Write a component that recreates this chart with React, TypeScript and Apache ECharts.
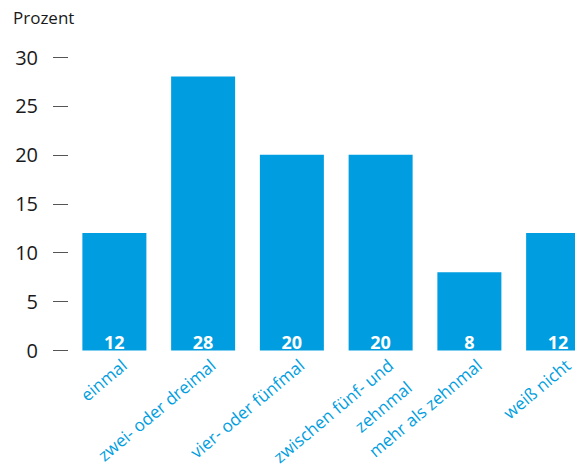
import React, { useEffect, useRef } from "react";
import * as echarts from "echarts";

const categories = [
  "einmal",
  "zwei- oder dreimal",
  "vier- oder fünfmal",
  "zwischen fünf- und\nzehnmal",
  "mehr als zehnmal",
  "weiß nicht",
];
const values = [12, 28, 20, 20, 8, 12];
const yTicks = [0, 5, 10, 15, 20, 25, 30];
const unitLabel = "Prozent";

const FONT = "'Open Sans', 'Noto Sans', sans-serif";
const BLUE = "#009ee0";

export default function App() {
  const ref = useRef<HTMLDivElement>(null);
  useEffect(() => {
    if (!ref.current) return;
    const chart = echarts.init(ref.current, null, { renderer: "svg" });
    chart.setOption({
      animation: false,
      title: {
        text: unitLabel,
        left: 13,
        top: 9,
        padding: 0,
        textStyle: { fontFamily: FONT, fontSize: 17, fontWeight: "normal", color: "#1a1a1a" },
      },
      grid: [
        { left: 70, width: 532.5, top: 57, bottom: 125.5, outerBoundsMode: "none", containLabel: false },
        { left: 70.5, width: 532.5, top: 57, bottom: 125.5, outerBoundsMode: "none", containLabel: false },
      ],
      xAxis: [
        {
          type: "category",
          gridIndex: 0,
          data: categories,
          axisLine: { show: false },
          axisTick: { show: false },
          axisLabel: { show: false },
        },
        {
          type: "category",
          gridIndex: 1,
          data: categories,
          axisLine: { show: false },
          axisTick: { show: false },
          axisLabel: {
            interval: 0,
            rotate: 40,
            margin: 1,
            align: "right",
            verticalAlign: "top",
            color: BLUE,
            fontFamily: FONT,
            fontSize: 17,
            lineHeight: 29,
          },
        },
      ],
      yAxis: [
        {
          type: "value",
          gridIndex: 0,
          min: yTicks[0],
          max: yTicks[yTicks.length - 1],
          interval: 5,
          offset: 2,
          axisLine: { show: false },
          axisTick: { show: true, length: 15, lineStyle: { color: "#555", width: 1 } },
          splitLine: { show: false },
          axisLabel: { margin: 30, color: "#1a1a1a", fontFamily: FONT, fontSize: 20 },
        },
        {
          type: "value",
          gridIndex: 1,
          min: 0,
          max: 30,
          show: false,
        },
      ],
      series: [
        {
          type: "bar",
          xAxisIndex: 0,
          yAxisIndex: 0,
          data: values,
          barWidth: 64,
          itemStyle: { color: BLUE },
          label: {
            show: true,
            position: "insideBottom",
            distance: 0,
            color: "#fff",
            fontFamily: FONT,
            fontWeight: "bold",
            fontSize: 18,
          },
        },
      ],
    });
    return () => chart.dispose();
  }, []);
  return <div ref={ref} style={{ width: 583, height: 476, margin: -8 }} />;
}
